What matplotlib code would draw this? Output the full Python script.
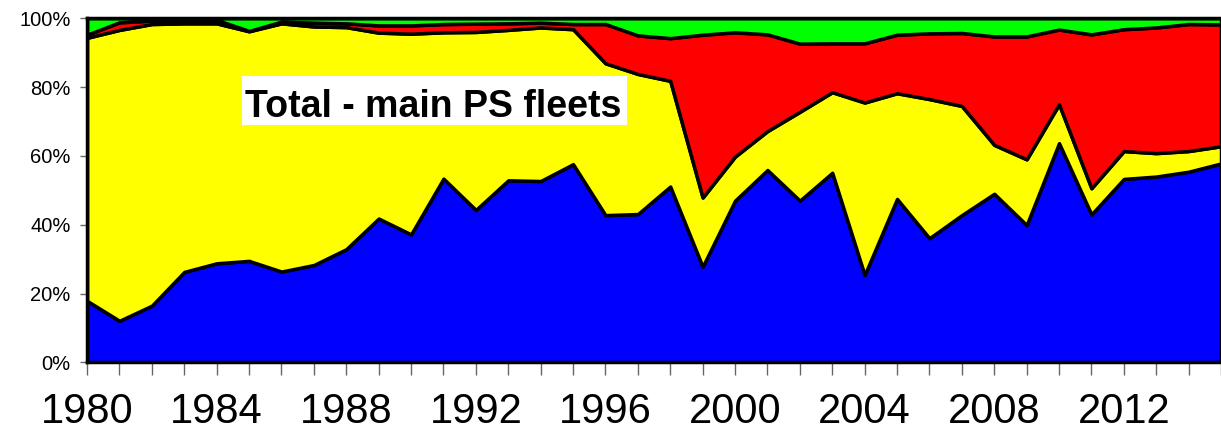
import numpy as np
import matplotlib
matplotlib.use("Agg")
import matplotlib.pyplot as plt
from matplotlib.patches import Rectangle
from matplotlib.ticker import FuncFormatter, MultipleLocator

# years shown
years = list(range(1980, 2016))

# cumulative percentage (top edge of each band)
blue_top = [17.9, 12.1, 16.5, 26.3, 28.8, 29.5, 26.4, 28.3, 32.9, 41.8,
            37.2, 53.4, 44.3, 52.9, 52.7, 57.6, 42.8, 43.1, 51.1, 27.8,
            47.0, 55.9, 47.0, 55.1, 25.4, 47.5, 36.1, 42.8, 49.0, 39.9,
            63.7, 43.0, 53.3, 54.0, 55.4, 57.8]
yellow_top = [94.3, 96.6, 98.3, 98.5, 98.5, 96.2, 98.5, 97.6, 97.4, 95.8,
              95.5, 95.9, 96.0, 96.6, 97.3, 96.8, 86.9, 83.8, 81.8, 47.9,
              59.8, 67.2, 72.8, 78.5, 75.5, 78.2, 76.5, 74.5, 63.2, 59.0,
              75.0, 50.6, 61.4, 60.8, 61.4, 62.8]
red_top = [95.2, 98.8, 99.3, 99.5, 99.5, 96.3, 99.0, 98.7, 98.5, 97.9,
           97.9, 98.3, 98.4, 98.5, 98.7, 98.3, 98.3, 95.0, 94.2, 95.2,
           95.9, 95.3, 92.6, 92.7, 92.7, 95.2, 95.6, 95.7, 94.7, 94.7,
           96.7, 95.3, 96.8, 97.3, 98.3, 98.2]

x_labels = [1980, 1984, 1988, 1992, 1996, 2000, 2004, 2008, 2012]

# bands from the cumulative edges
blue = np.array(blue_top)
yellow = np.array(yellow_top) - blue
red = np.array(red_top) - np.array(yellow_top)
green = 100 - np.array(red_top)

fig = plt.figure(figsize=(12.21, 4.33), dpi=100)
ax = fig.add_axes([0.0713, 0.163, 0.9287, 0.795])

ax.stackplot(years, blue, yellow, red, green,
             colors=['#0000FF', '#FFFF00', '#FF0000', '#00FF00'],
             edgecolor='black', linewidth=2.5)

ax.set_xlim(1980, 2014.6)
ax.set_ylim(0, 100)

# x axis: a tick every year, label every 4th
ax.set_xticks(years)
ax.set_xticklabels([str(y) if y in x_labels else '' for y in years],
                   family='Liberation Sans', fontsize=30)
ax.tick_params(axis='x', length=9, width=1, color='#666666', pad=12)

# y axis in percent
ax.yaxis.set_major_locator(MultipleLocator(20))
ax.yaxis.set_major_formatter(FuncFormatter(lambda v, p: f'{int(v)}%'))
for lab in ax.get_yticklabels():
    lab.set_family('Liberation Sans')
    lab.set_fontsize(14.5)
ax.tick_params(axis='y', length=5, width=1, color='#666666', pad=7)

for side in ['left', 'bottom', 'top']:
    ax.spines[side].set_linewidth(2.5)
    ax.spines[side].set_color('black')
ax.spines['right'].set_visible(False)

# white label box
ax.add_patch(Rectangle((0.1362, 0.689), 0.3401, 0.143, transform=ax.transAxes,
                       facecolor='white', edgecolor='none', zorder=5))
ax.text(1990.68, 71.3, 'Total - main PS fleets', fontsize=27, fontweight='bold',
        family='Liberation Sans', ha='center', va='baseline', zorder=6)

fig.savefig('out.png', dpi=100)
